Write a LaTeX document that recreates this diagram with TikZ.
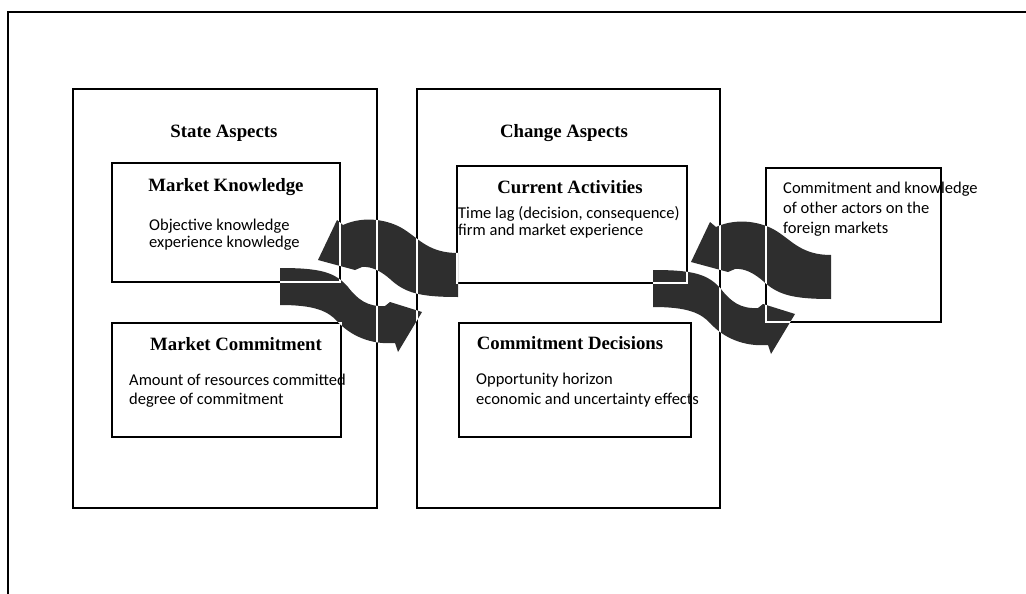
\documentclass[tikz,border=0pt]{standalone}
\usepackage{fontspec}
\setmainfont{Liberation Serif}
\newfontfamily\bodyfont{Carlito}
% outlines of the two interlocking turn arrows, about the centre of a pair
\newcommand\turnup{(89,-30) .. controls (61,-30) and (51,-43) .. (36,-53)
      .. controls (21,-63) and (-4,-68) .. (-26,-58)
      -- (-32,-63) -- (-51,-23) -- (-14,-13) -- (-7,-16)
      .. controls (3,-17) and (13,-11) .. (21,-4)
      .. controls (36,10) and (51,14) .. (89,14) -- cycle}
\newcommand\turnlow{(-89,-15) .. controls (-49,-15) and (-34,-11) .. (-21,4)
      .. controls (-11,17) and (-1,24) .. (16,23)
      -- (21,19) -- (53,29) -- (29,69) -- (26,60)
      .. controls (1,62) and (-19,52) .. (-31,39)
      .. controls (-41,28) and (-54,22) .. (-89,22) -- cycle}
\begin{document}
\begin{tikzpicture}[x=1pt,y=-1pt,
  frame/.style={draw=black, line width=1.6pt, inner sep=0pt, outer sep=0pt, rectangle},
  heading/.style={font=\fontsize{18.8}{20}\selectfont\bfseries, anchor=base, inner sep=0pt},
  body/.style={font=\bodyfont\fontsize{16.5}{17}\selectfont, anchor=base west, align=left, inner sep=0pt},
  turnfill/.style={fill=black!82},
  ghostline/.style={draw=white, line width=1.1pt},
  turnpair/.pic={\fill[turnfill] \turnup \turnlow;}
]
\useasboundingbox (0,0) rectangle (1026,594);

% page frame (top and left rules)
\coordinate (corner) at (8,12);
\coordinate (topend) at (1026,12);
\coordinate (leftend) at (8,594);
\draw[line width=1.5pt] (topend) -- (corner) -- (leftend);

% outer aspect boxes
\node[frame, minimum width=304, minimum height=419] (state) at (225,298.5) {};
\node[frame, minimum width=303, minimum height=419] (change) at (568.5,298.5) {};

% inner boxes
\node[frame, minimum width=228, minimum height=119] (mk) at (226,222.5) {};
\node[frame, minimum width=229, minimum height=114] (mc) at (226.5,380) {};
\node[frame, minimum width=230, minimum height=117] (ca) at (572,224.5) {};
\node[frame, minimum width=232, minimum height=114] (cd) at (575,380) {};
\node[frame, minimum width=175, minimum height=154] (other) at (853.5,245) {};

% interlocking turn arrows
\pic at (369,283) {turnpair};
\pic at (742,285) {turnpair};

% box edges still show faintly through the arrows
\newcommand\edgesthrough{%
  \foreach \b in {state,change,mk,mc,ca,cd,other}
    \draw[ghostline] (\b.north west) rectangle (\b.south east);}
\begin{scope}
  \clip[shift={(369,283)}] \turnup \turnlow;
  \edgesthrough
\end{scope}
\begin{scope}
  \clip[shift={(742,285)}] \turnup \turnlow;
  \edgesthrough
\end{scope}

% headings
\node[heading] (stateT) at (224,137) {State Aspects};
\node[heading] (changeT) at (564,137) {Change Aspects};
\node[heading] (mkT) at (226,191) {Market Knowledge};
\node[heading] (mcT) at (236,350) {Market Commitment};
\node[heading] (caT) at (570,193) {Current Activities};
\node[heading] (cdT) at (570,349) {Commitment Decisions};

% descriptions (node placed on the baseline of the last line)
\node[body] (mkD) at (149,247) {Objective knowledge\\experience knowledge};
\node[body] (mcD) at (129,404) {Amount of resources committed\\[2pt]degree of commitment};
\node[body] (caD) at (458,235) {Time lag (decision, consequence)\\firm and market experience};
\node[body] (cdD) at (476,404) {Opportunity horizon\\[3pt]economic and uncertainty effects};
\node[body] (otherD) at (783,233) {Commitment and knowledge\\[3pt]of other actors on the\\[3pt]foreign markets};
\end{tikzpicture}
\end{document}
